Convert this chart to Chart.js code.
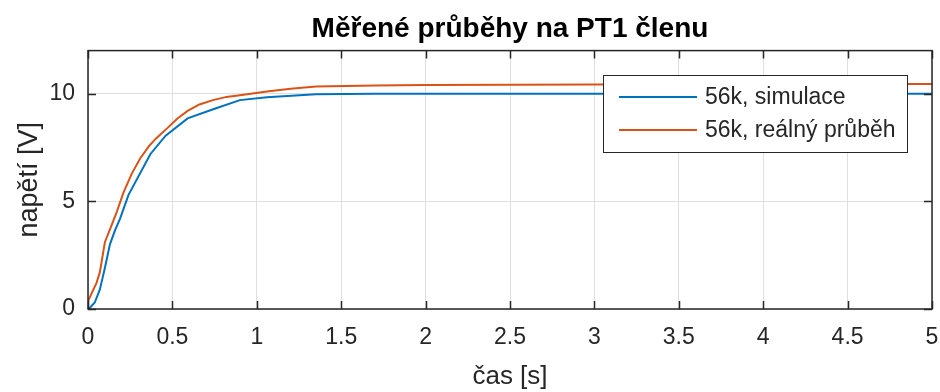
<!DOCTYPE html>
<html>
<head>
<meta charset="utf-8">
<script src="https://cdn.jsdelivr.net/npm/chart.js@4"></script>
<style>
  html, body { margin: 0; padding: 0; background: #fff; }
  #wrap { width: 940px; height: 392px; }
</style>
</head>
<body>
<div id="wrap"><canvas id="pt1"></canvas></div>
<script>
// values
const simX  = [0, 0.01, 0.04, 0.07, 0.10, 0.13, 0.16, 0.19, 0.24, 0.37, 0.46, 0.59, 0.75, 0.90, 1.06, 1.35, 1.7, 2.0, 3.0, 4.0, 5.0];
const simY  = [0, 0.05, 0.3, 0.9, 1.9, 3.0, 3.65, 4.2, 5.3, 7.2, 8.05, 8.85, 9.3, 9.7, 9.83, 9.97, 10.0, 10.0, 10.0, 10.0, 10.0];
const realX = [0, 0.02, 0.05, 0.07, 0.10, 0.14, 0.17, 0.21, 0.26, 0.31, 0.36, 0.40, 0.47, 0.53, 0.59, 0.66, 0.74, 0.82, 0.90, 1.06, 1.2, 1.35, 1.7, 2.0, 3.0, 4.0, 5.0];
const realY = [0.35, 0.7, 1.2, 1.7, 3.1, 3.9, 4.5, 5.4, 6.3, 7.0, 7.55, 7.9, 8.4, 8.85, 9.2, 9.5, 9.7, 9.85, 9.93, 10.1, 10.23, 10.33, 10.38, 10.4, 10.43, 10.45, 10.45];
const xTicks = [0, 0.5, 1, 1.5, 2, 2.5, 3, 3.5, 4, 4.5, 5];
const yTicks = [0, 5, 10];
const seriesNames = ['56k, simulace', '56k, reálný průběh'];
const seriesColors = ['#0072BD', '#D95319'];

const FONT = "'Liberation Sans', Arial, Helvetica, sans-serif";
const pts = (xs, ys) => xs.map((x, i) => ({ x: x, y: ys[i] }));

// matlab like box with inward ticks + legend inside the axes
const boxPlugin = {
    id: 'box',
    afterDatasetsDraw(chart) {
        const { ctx, chartArea: a, scales } = chart;
        ctx.save();
        ctx.strokeStyle = '#262626';
        ctx.lineWidth = 1.5;
        ctx.beginPath();
        xTicks.forEach(v => {
            const px = Math.round(scales.x.getPixelForValue(v)) + 0.5;
            ctx.moveTo(px, a.bottom); ctx.lineTo(px, a.bottom - 8);
            ctx.moveTo(px, a.top); ctx.lineTo(px, a.top + 8);
        });
        yTicks.forEach(v => {
            const py = Math.round(scales.y.getPixelForValue(v)) + 0.5;
            ctx.moveTo(a.left, py); ctx.lineTo(a.left + 8, py);
            ctx.moveTo(a.right, py); ctx.lineTo(a.right - 8, py);
        });
        ctx.stroke();
        ctx.strokeRect(a.left, a.top, a.right - a.left, a.bottom - a.top);

        // legend
        const lx = 603, ly = 75, lw = 304, lh = 77;
        ctx.fillStyle = '#fff';
        ctx.fillRect(lx, ly, lw, lh);
        ctx.lineWidth = 1;
        ctx.strokeStyle = '#262626';
        ctx.strokeRect(lx + 0.5, ly + 0.5, lw, lh);
        ctx.font = '23px ' + FONT;
        ctx.textBaseline = 'middle';
        ctx.textAlign = 'left';
        seriesNames.forEach((name, i) => {
            const y = ly + 22 + i * 33;
            ctx.strokeStyle = seriesColors[i];
            ctx.lineWidth = 2;
            ctx.beginPath();
            ctx.moveTo(619, y); ctx.lineTo(697, y);
            ctx.stroke();
            ctx.fillStyle = '#262626';
            ctx.fillText(name, 705, y + 1);
        });
        ctx.restore();
    }
};

const ctx = document.getElementById('pt1').getContext('2d');
const pt1Chart = new Chart(ctx, {
    type: 'line',
    data: {
        datasets: [{
            label: seriesNames[0],
            data: pts(simX, simY),
            borderColor: seriesColors[0],
            borderWidth: 2,
            pointRadius: 0,
            tension: 0
        }, {
            label: seriesNames[1],
            data: pts(realX, realY),
            borderColor: seriesColors[1],
            borderWidth: 2,
            pointRadius: 0,
            tension: 0
        }]
    },
    options: {
        responsive: true,
        maintainAspectRatio: false,
        animation: false,
        layout: { padding: { left: 0, right: 8, top: 0, bottom: 0 } },
        plugins: {
            legend: { display: false },
            tooltip: { enabled: false },
            title: {
                display: true,
                fullSize: false,
                text: 'Měřené průběhy na PT1 členu',
                color: '#000',
                font: { family: FONT, size: 28, weight: 'bold' },
                padding: { top: 12, bottom: 5 }
            }
        },
        scales: {
            x: {
                type: 'linear',
                min: 0,
                max: 5,
                afterBuildTicks: s => { s.ticks = xTicks.map(v => ({ value: v })); },
                afterFit: s => { s.height = 83; s.paddingLeft = 0; s.paddingRight = 0; },
                grid: { color: '#dfdfdf', lineWidth: 1, drawTicks: false },
                border: { display: false },
                ticks: {
                    padding: 15,
                    color: '#262626',
                    font: { family: FONT, size: 23 },
                    maxRotation: 0,
                    autoSkip: false,
                    callback: v => String(v)
                },
                title: {
                    display: true,
                    text: 'čas [s]',
                    color: '#262626',
                    font: { family: FONT, size: 26 },
                    padding: { top: 0, bottom: 0 }
                }
            },
            y: {
                min: 0,
                max: 12,
                afterBuildTicks: s => { s.ticks = yTicks.map(v => ({ value: v })); },
                afterFit: s => { s.width = 88; },
                grid: { color: '#dfdfdf', lineWidth: 1, drawTicks: false },
                border: { display: false },
                ticks: {
                    padding: 13,
                    color: '#262626',
                    font: { family: FONT, size: 23 },
                    callback: v => String(v)
                },
                title: {
                    display: true,
                    text: 'napětí [V]',
                    color: '#262626',
                    font: { family: FONT, size: 27 },
                    padding: { top: 13, bottom: 0 }
                }
            }
        }
    },
    plugins: [boxPlugin]
});
</script>
</body>
</html>
